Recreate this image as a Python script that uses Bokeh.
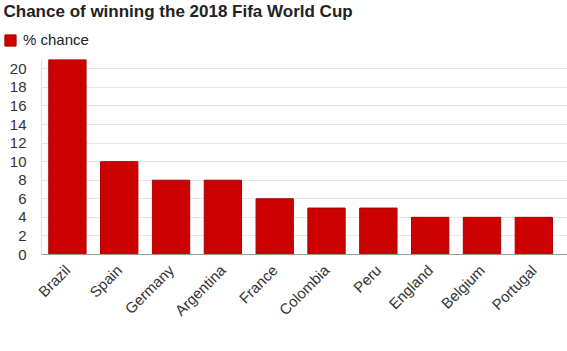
import math
from bokeh.plotting import figure
from bokeh.layouts import column
from bokeh.models import (ColumnDataSource, Range1d, FixedTicker, Legend, LegendItem, Label)
from bokeh.embed import file_html
from bokeh.resources import INLINE

title_text = "Chance of winning the 2018 Fifa World Cup"
series_name = "% chance"
countries = ["Brazil", "Spain", "Germany", "Argentina", "France",
             "Colombia", "Peru", "England", "Belgium", "Portugal"]
chance = [21, 10, 8, 8, 6, 5, 5, 4, 4, 4]
y_ticks = [0, 2, 4, 6, 8, 10, 12, 14, 16, 18, 20]

FONT = "Liberation Sans"
FILL = "#cc0000"
EDGE = "#a80000"
TOP_H = 59

# ---- header (title + legend) ----
h = figure(width=567, height=TOP_H, output_backend="svg", toolbar_location=None,
           x_range=Range1d(0, 1), y_range=Range1d(0, 1),
           x_axis_type=None, y_axis_type=None,
           min_border=0, min_border_left=0, min_border_right=0,
           min_border_top=0, min_border_bottom=0)
try:
    h.title = None
except Exception:
    h.title.visible = False
try:
    h.frame_align = False
except Exception:
    pass
h.xgrid.visible = False
h.ygrid.visible = False
h.outline_line_color = None

h.add_layout(Label(x=3, y=TOP_H - 11, x_units="screen", y_units="screen",
                   text=title_text, text_font=FONT, text_font_size="17px",
                   text_font_style="bold", text_color="#222222",
                   text_baseline="alphabetic", text_align="left"))

# legend swatch renderer, kept below the header's visible range
dummy = h.vbar(x=[0.5], bottom=[-5], top=[-4], width=0.1, fill_color=FILL, line_color=EDGE)
legend = Legend(items=[LegendItem(label=series_name, renderers=[dummy])],
                orientation="horizontal", location=(3, 11),
                label_text_font=FONT, label_text_font_size="15px", label_text_color="#222222",
                glyph_width=14, glyph_height=14, border_line_color=None,
                background_fill_alpha=0, padding=0, margin=0, spacing=0,
                label_standoff=6, label_height=14)
h.add_layout(legend, "center")

# ---- main bar chart ----
idx = list(range(len(countries)))
src = ColumnDataSource(dict(x=idx, top=chance, name=countries))

p = figure(width=567, height=351 - TOP_H, output_backend="svg", toolbar_location=None,
           x_range=Range1d(-0.5, len(countries) - 0.35), y_range=Range1d(0, 21),
           min_border_left=41, min_border_right=0, min_border_bottom=97, min_border_top=0)
try:
    p.title = None
except Exception:
    p.title.visible = False
try:
    p.frame_align = False
except Exception:
    pass

p.vbar(x="x", top="top", width=0.72, source=src,
       fill_color=FILL, line_color=EDGE, line_width=1)

p.xaxis.ticker = FixedTicker(ticks=idx)
p.xaxis.major_label_overrides = {i: c for i, c in zip(idx, countries)}
p.xaxis.major_label_orientation = math.pi / 4
p.xaxis.major_tick_line_color = None
p.xaxis.minor_tick_line_color = None
p.xaxis.axis_line_color = "#999999"
p.xaxis.major_label_text_font = FONT
p.xaxis.major_label_text_font_size = "15px"
p.xaxis.major_label_text_color = "#333333"
p.xaxis.major_label_standoff = 7

p.yaxis.ticker = FixedTicker(ticks=y_ticks)
p.yaxis.major_tick_line_color = None
p.yaxis.minor_tick_line_color = None
p.yaxis.axis_line_color = "#e0e0e0"
p.yaxis.major_label_text_font = FONT
p.yaxis.major_label_text_font_size = "15px"
p.yaxis.major_label_text_color = "#333333"
p.yaxis.major_label_standoff = 9

p.xgrid.grid_line_color = None
p.ygrid.grid_line_color = "#e6e6e6"
p.outline_line_color = None

layout = column(h, p, spacing=0)
open("out.html", "w").write(file_html(layout, INLINE))
